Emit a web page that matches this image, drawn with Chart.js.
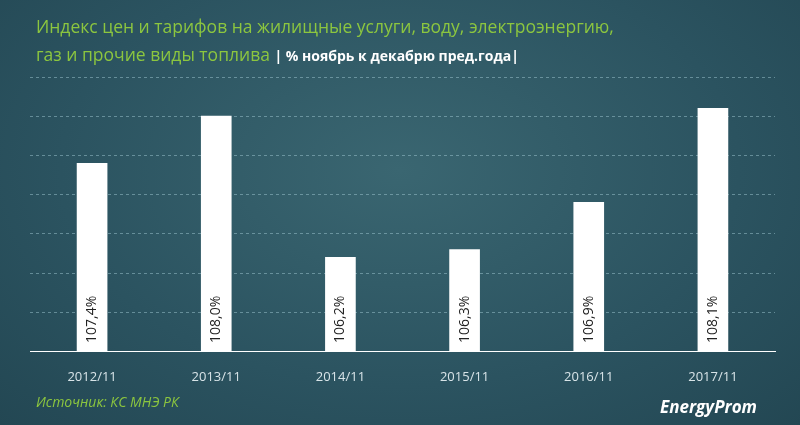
<!DOCTYPE html>
<html><head><meta charset="utf-8">
<script src="https://cdn.jsdelivr.net/npm/chart.js@4"></script>
<style>
html,body{margin:0;padding:0;}
body{width:800px;height:425px;background:radial-gradient(ellipse at 50% 40%,#3a6671 0%,#2b5360 60%,#234753 100%);position:relative;overflow:hidden;font-family:"Open Sans",Arial,sans-serif;}
#t{position:absolute;left:36px;top:12px;color:#8cc63f;font-size:17.5px;line-height:28px;}
#t span{color:#fff;font-size:14px;font-weight:bold;}
#src{position:absolute;left:36px;top:392px;color:#8cc63f;font-style:italic;font-size:14px;}
#logo{position:absolute;left:660px;top:395px;color:#fff;font-style:italic;font-weight:bold;font-size:17px;}
#c{position:absolute;left:0;top:0;}
</style></head><body>
<canvas id="c" width="800" height="425"></canvas>
<div id="t">Индекс цен и тарифов на жилищные услуги, воду, электроэнергию,<br>газ и прочие виды топлива <span>| % ноябрь к декабрю пред.года|</span></div>
<div id="src">Источник: КС МНЭ РК</div>
<div id="logo">EnergyProm</div>
<script>
const categories=["2012/11","2013/11","2014/11","2015/11","2016/11","2017/11"];
const values=[107.4,108.0,106.2,106.3,106.9,108.1];
const labels=["107,4%","108,0%","106,2%","106,3%","106,9%","108,1%"];
const inBar={id:'inBar',afterDatasetsDraw(ch){const ctx=ch.ctx;const m=ch.getDatasetMeta(0);
ctx.save();ctx.fillStyle='#222';ctx.font='14px "Open Sans", Arial';ctx.textAlign='left';ctx.textBaseline='middle';
m.data.forEach((b,i)=>{ctx.save();ctx.translate(b.x,b.base-8);ctx.rotate(-Math.PI/2);ctx.fillText(labels[i],0,0);ctx.restore();});ctx.restore();}};
new Chart(document.getElementById('c'),{type:'bar',
data:{labels:categories,datasets:[{data:values,backgroundColor:'#ffffff',barThickness:30,base:105}]},
options:{responsive:false,animation:false,layout:{padding:{left:30,right:25,top:77,bottom:30}},
plugins:{legend:{display:false},tooltip:{enabled:false}},
scales:{y:{min:105,max:108.5,ticks:{display:false,stepSize:0.5},
grid:{color:'rgba(160,200,210,0.5)',lineWidth:1,tickLength:0,drawTicks:false},border:{display:false,dash:[3,3]}},
x:{grid:{display:false},border:{color:'#ffffff',width:1},ticks:{color:'#d8e4e8',font:{size:13,family:'"Open Sans", Arial'},padding:10}}}},
plugins:[inBar]});
</script>
</body></html>
